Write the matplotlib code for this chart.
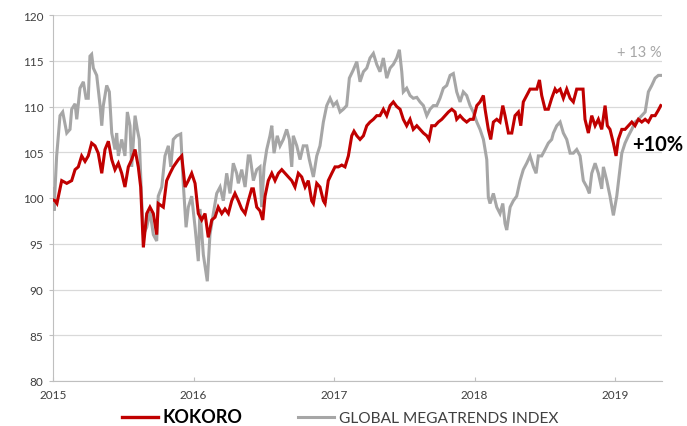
import matplotlib
matplotlib.use("Agg")
import matplotlib.pyplot as plt
from matplotlib.lines import Line2D

# time offsets in years from 2015-01-01
t_gme = [0.000, 0.007, 0.026, 0.050, 0.069, 0.098, 0.121, 0.133, 0.157, 0.169,
         0.192, 0.216, 0.235, 0.251, 0.263, 0.275, 0.287, 0.311, 0.335, 0.347,
         0.358, 0.382, 0.401, 0.418, 0.441, 0.453, 0.465, 0.489, 0.512, 0.529,
         0.548, 0.560, 0.584, 0.600, 0.614, 0.631, 0.643, 0.667, 0.690, 0.714,
         0.738, 0.749, 0.774, 0.797, 0.821, 0.838, 0.856, 0.880, 0.909, 0.927,
         0.947, 0.963, 0.987, 1.011, 1.034, 1.046, 1.070, 1.098, 1.117, 1.141,
         1.165, 1.189, 1.212, 1.236, 1.260, 1.283, 1.307, 1.319, 1.343, 1.367,
         1.390, 1.402, 1.426, 1.450, 1.473, 1.485, 1.502, 1.521, 1.544, 1.557,
         1.573, 1.596, 1.616, 1.639, 1.663, 1.682, 1.699, 1.710, 1.735, 1.758,
         1.781, 1.806, 1.824, 1.853, 1.877, 1.900, 1.924, 1.948, 1.972, 1.995,
         2.019, 2.043, 2.066, 2.090, 2.109, 2.137, 2.162, 2.185, 2.209, 2.233,
         2.256, 2.280, 2.304, 2.327, 2.351, 2.375, 2.399, 2.422, 2.446, 2.465,
         2.482, 2.493, 2.517, 2.541, 2.564, 2.589, 2.612, 2.636, 2.660, 2.683,
         2.707, 2.731, 2.754, 2.778, 2.802, 2.826, 2.849, 2.873, 2.897, 2.920,
         2.944, 2.968, 2.991, 3.016, 3.039, 3.063, 3.087, 3.098, 3.110, 3.134,
         3.158, 3.181, 3.201, 3.217, 3.229, 3.253, 3.276, 3.300, 3.324, 3.347,
         3.371, 3.395, 3.419, 3.438, 3.454, 3.478, 3.502, 3.525, 3.549, 3.561,
         3.585, 3.609, 3.632, 3.656, 3.680, 3.703, 3.727, 3.751, 3.774, 3.799,
         3.817, 3.834, 3.858, 3.881, 3.905, 3.917, 3.941, 3.964, 3.988, 4.012,
         4.031, 4.048, 4.071, 4.095, 4.119, 4.142, 4.166, 4.190, 4.214, 4.237,
         4.261, 4.285, 4.308, 4.325]
gme = [101.0, 98.6, 104.6, 109.0, 109.4, 107.1, 107.5, 109.7, 110.3, 108.6,
       112.0, 112.7, 110.9, 110.9, 115.5, 115.7, 114.2, 113.4, 110.1, 107.9,
       110.1, 112.3, 111.6, 107.1, 105.3, 107.1, 104.6, 106.4, 104.6, 109.4,
       107.9, 103.4, 109.0, 107.5, 106.4, 99.7, 96.0, 96.8, 98.5, 96.0,
       95.3, 100.2, 101.2, 104.6, 105.7, 103.4, 106.4, 106.8, 107.0, 101.6,
       96.8, 99.0, 100.2, 96.8, 93.1, 98.8, 93.8, 90.9, 96.0, 98.3,
       100.5, 101.2, 99.7, 102.7, 100.5, 103.8, 102.7, 101.6, 103.1, 101.2,
       104.6, 104.6, 101.9, 103.1, 103.4, 99.0, 103.4, 105.3, 106.8, 107.9,
       104.9, 106.8, 105.7, 106.4, 107.5, 106.4, 103.4, 106.8, 105.7, 104.2,
       105.7, 105.7, 104.2, 102.3, 104.6, 105.7, 108.3, 110.1, 110.9, 110.1,
       110.5, 109.4, 109.7, 110.1, 113.1, 114.0, 114.9, 112.7, 113.8, 114.2,
       115.3, 115.8, 114.6, 113.8, 115.3, 113.1, 114.2, 114.6, 115.3, 116.2,
       113.8, 111.6, 112.0, 111.2, 110.9, 111.0, 110.5, 110.1, 109.0, 109.7,
       110.1, 110.1, 110.9, 112.0, 112.3, 113.4, 113.6, 111.6, 110.5, 111.6,
       111.2, 110.1, 109.4, 108.3, 107.5, 106.4, 104.2, 100.1, 99.4, 100.5,
       99.0, 98.3, 99.4, 97.2, 96.5, 99.0, 99.7, 100.2, 101.9, 103.1,
       103.8, 104.6, 103.4, 102.7, 104.6, 104.6, 105.3, 106.0, 106.4, 107.1,
       107.9, 108.3, 107.1, 106.4, 104.9, 104.9, 105.3, 104.6, 101.9, 101.2,
       100.5, 102.7, 103.8, 102.7, 101.0, 103.4, 101.9, 100.2, 98.1, 100.2,
       102.7, 104.9, 106.0, 106.8, 107.5, 108.3, 108.6, 109.0, 109.4, 111.6,
       112.3, 113.1, 113.4, 113.4]

t_kok = [0.000, 0.014, 0.028, 0.062, 0.098, 0.133, 0.157, 0.180, 0.204, 0.228,
         0.251, 0.275, 0.299, 0.322, 0.347, 0.370, 0.394, 0.418, 0.441, 0.465,
         0.489, 0.512, 0.536, 0.560, 0.584, 0.607, 0.624, 0.643, 0.667, 0.690,
         0.714, 0.738, 0.749, 0.785, 0.809, 0.833, 0.856, 0.892, 0.916, 0.940,
         0.963, 0.987, 1.011, 1.034, 1.058, 1.082, 1.105, 1.130, 1.153, 1.176,
         1.201, 1.224, 1.248, 1.272, 1.295, 1.319, 1.343, 1.367, 1.390, 1.414,
         1.426, 1.450, 1.473, 1.493, 1.509, 1.532, 1.557, 1.580, 1.604, 1.628,
         1.651, 1.675, 1.699, 1.722, 1.746, 1.770, 1.794, 1.817, 1.841, 1.853,
         1.877, 1.900, 1.924, 1.936, 1.959, 1.984, 2.007, 2.031, 2.055, 2.078,
         2.102, 2.126, 2.142, 2.162, 2.185, 2.209, 2.233, 2.256, 2.280, 2.304,
         2.327, 2.351, 2.375, 2.399, 2.422, 2.446, 2.470, 2.493, 2.517, 2.541,
         2.564, 2.589, 2.612, 2.636, 2.660, 2.676, 2.695, 2.719, 2.742, 2.767,
         2.790, 2.814, 2.838, 2.861, 2.873, 2.897, 2.920, 2.944, 2.968, 2.991,
         3.016, 3.039, 3.063, 3.075, 3.098, 3.115, 3.134, 3.158, 3.181, 3.201,
         3.217, 3.241, 3.265, 3.288, 3.312, 3.329, 3.347, 3.371, 3.395, 3.419,
         3.443, 3.462, 3.478, 3.502, 3.525, 3.549, 3.573, 3.585, 3.609, 3.632,
         3.656, 3.680, 3.703, 3.727, 3.751, 3.772, 3.786, 3.810, 3.834, 3.858,
         3.881, 3.905, 3.929, 3.945, 3.964, 3.988, 4.007, 4.023, 4.048, 4.071,
         4.095, 4.119, 4.142, 4.166, 4.190, 4.214, 4.237, 4.261, 4.285, 4.308,
         4.325]
kokoro = [99.8, 99.7, 99.4, 101.9, 101.6, 101.9, 103.1, 103.4, 104.6, 104.0,
          104.6, 106.0, 105.7, 104.9, 102.7, 105.3, 106.2, 104.2, 103.1, 103.8,
          102.7, 101.2, 103.4, 104.2, 105.3, 103.4, 101.2, 94.6, 98.3, 99.0,
          98.3, 96.0, 99.4, 99.0, 101.9, 102.7, 103.4, 104.2, 104.6, 101.2,
          101.9, 102.7, 101.6, 98.3, 97.6, 98.3, 95.7, 97.6, 97.9, 99.0,
          98.3, 98.8, 98.3, 99.7, 100.5, 99.7, 98.8, 98.3, 99.7, 101.0,
          101.0, 99.0, 98.6, 97.6, 100.2, 101.9, 102.7, 101.9, 102.7, 103.1,
          102.7, 102.3, 101.9, 101.2, 102.7, 102.3, 101.2, 101.9, 99.7, 99.4,
          101.6, 101.2, 99.7, 99.4, 101.9, 102.7, 103.4, 103.4, 103.6, 103.4,
          104.6, 106.8, 107.3, 106.8, 106.4, 106.8, 107.9, 108.3, 108.6, 109.0,
          109.0, 109.7, 109.0, 110.1, 110.5, 110.0, 109.7, 108.6, 107.9, 108.6,
          107.5, 107.9, 107.5, 107.1, 106.8, 106.4, 107.9, 107.9, 108.3, 108.6,
          109.0, 109.4, 109.7, 109.4, 108.6, 109.0, 108.6, 108.3, 108.6, 108.6,
          110.1, 110.5, 111.2, 109.7, 107.5, 106.4, 108.3, 108.6, 108.3, 110.1,
          109.0, 107.1, 107.1, 109.0, 109.4, 107.9, 110.5, 111.2, 111.9, 111.9,
          111.9, 112.9, 111.2, 109.7, 109.7, 110.9, 111.9, 111.6, 111.9, 110.9,
          111.9, 110.9, 110.5, 111.9, 111.9, 111.9, 108.6, 107.1, 109.0, 107.9,
          108.6, 107.5, 110.1, 107.9, 107.5, 106.0, 104.6, 106.4, 107.5, 107.5,
          107.9, 108.3, 107.9, 108.6, 108.3, 108.6, 108.3, 109.0, 109.0, 109.6,
          110.1]

years = [2015, 2016, 2017, 2018, 2019]
yticks = [80, 85, 90, 95, 100, 105, 110, 115, 120]

plt.rcParams['font.family'] = ['Lato', 'DejaVu Sans']

fig = plt.figure(figsize=(6.87, 4.27), dpi=100)
ax = fig.add_axes([53/687, 1-382/427, (662-53)/687, (382-16)/427])

RED = '#C00000'
GRAY = '#A6A6A6'
TXT = '#404040'

x_gme = [2015 + t for t in t_gme]
x_kok = [2015 + t for t in t_kok]
ax.plot(x_gme, gme, color=GRAY, lw=2.2, solid_joinstyle='miter', zorder=3)
ax.plot(x_kok, kokoro, color=RED, lw=2.2, solid_joinstyle='miter', zorder=4)

ax.set_xlim(2015, 2019.334)
ax.set_ylim(80, 120)
ax.set_yticks(yticks)
ax.set_yticklabels([str(v) for v in yticks])
ax.set_xticks(years)
ax.set_xticklabels([str(y) for y in years])
ax.grid(axis='y', color='#D9D9D9', lw=0.9)
ax.set_axisbelow(True)
for s in ['top', 'right']:
    ax.spines[s].set_visible(False)
ax.spines['left'].set_color('#BFBFBF')
ax.spines['bottom'].set_color('#BFBFBF')
ax.tick_params(axis='y', length=3, color='#BFBFBF', labelsize=8.5, labelcolor=TXT, pad=4)
ax.tick_params(axis='x', length=3, direction='in', color='#BFBFBF', labelsize=8.5,
               labelcolor=TXT, pad=6)

ax.text(2019.334, 116.0, '+ 13 %', color=GRAY, fontsize=10.5, ha='right', va='center')
ax.text(2019.12, 105.9, '+10%', color='black', fontsize=14.5, fontweight='bold',
        ha='left', va='center', clip_on=False)

handles = [Line2D([], [], color=RED, lw=2.4), Line2D([], [], color=GRAY, lw=2.2)]
leg = fig.legend(handles, ['KOKORO', 'GLOBAL MEGATRENDS INDEX'], ncol=2,
                 loc='center', bbox_to_anchor=(340/687, 1-418/427), frameon=False,
                 handlelength=2.3, handletextpad=0.3, columnspacing=3.6, fontsize=11.2)
t0, t1 = leg.get_texts()
t0.set_fontweight('bold')
t0.set_fontsize(13)
t0.set_color('black')
t1.set_color(TXT)

fig.savefig('out.png', dpi=100)
